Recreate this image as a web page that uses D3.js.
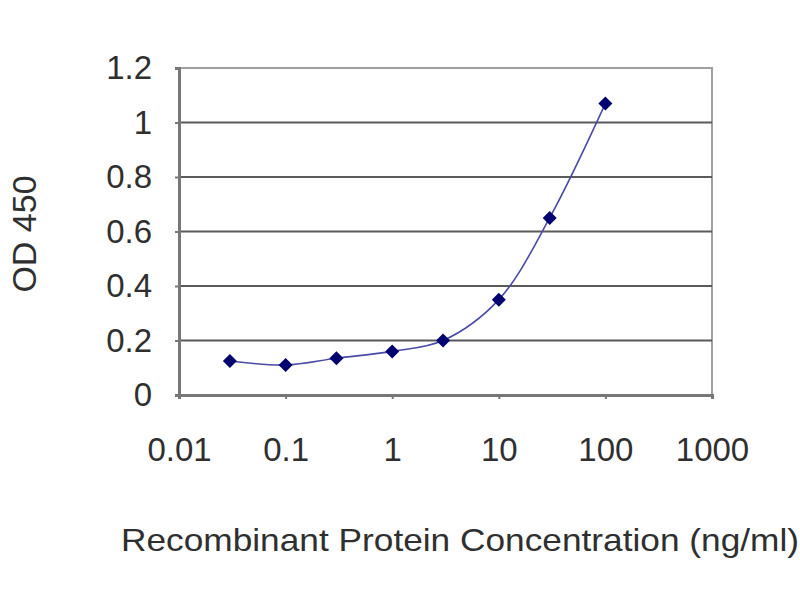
<!DOCTYPE html>
<html>
<head>
<meta charset="utf-8">
<script src="https://cdn.jsdelivr.net/npm/d3@7"></script>
<style>
  body { margin: 0; background: #fff; }
  text { font-family: "Liberation Sans", Arial, sans-serif; fill: #2f2f2f; }
</style>
</head>
<body>
<div id="chart"></div>
<script>
const concentrations = [0.03, 0.1, 0.3, 1, 3, 10, 30, 100];
const odValues = [0.125, 0.11, 0.135, 0.16, 0.2, 0.35, 0.65, 1.07];
const xTicks = [0.01, 0.1, 1, 10, 100, 1000];
const yTicks = [0, 0.2, 0.4, 0.6, 0.8, 1, 1.2];

const W = 800, H = 600;
const margin = { top: 68, right: 88, bottom: 205, left: 179 },
  width = W - margin.left - margin.right,
  height = H - margin.top - margin.bottom;

const svg = d3
  .select("#chart")
  .append("svg")
  .attr("width", W)
  .attr("height", H);

const g = svg.append("g").attr("transform", `translate(${margin.left},${margin.top})`);

const x = d3.scaleLog().domain([0.01, 1000]).range([0, width]);
const y = d3.scaleLinear().domain([0, 1.2]).range([height, 0]);

// Plot frame (top/right are lighter gray).
g.append("rect")
  .attr("width", width)
  .attr("height", height)
  .attr("fill", "#fff")
  .attr("stroke", "#a0a0a0")
  .attr("stroke-width", 2);

// Horizontal gridlines.
g.append("g")
  .selectAll("line")
  .data(yTicks.filter((d) => d > 0 && d < 1.2))
  .enter()
  .append("line")
  .attr("x1", 0)
  .attr("x2", width)
  .attr("y1", (d) => y(d))
  .attr("y2", (d) => y(d))
  .attr("stroke", "#5a5a5a")
  .attr("stroke-width", 2);

// Y axis.
const yAxis = g
  .append("g")
  .call(d3.axisLeft(y).tickValues(yTicks).tickSize(4).tickPadding(23).tickFormat(d3.format("~g")));
yAxis.select(".domain").attr("stroke", "#777").attr("stroke-width", 3);
yAxis.selectAll(".tick line").attr("stroke", "#777").attr("stroke-width", 2);
yAxis.selectAll(".tick text").style("font-size", "33px").attr("fill", "#2f2f2f");

// X axis.
const xAxis = g
  .append("g")
  .attr("transform", `translate(0,${height})`)
  .call(d3.axisBottom(x).tickValues(xTicks).tickSize(4).tickPadding(39).tickFormat(d3.format("~g")));
xAxis.select(".domain").attr("stroke", "#777").attr("stroke-width", 3);
xAxis.selectAll(".tick line").attr("stroke", "#777").attr("stroke-width", 2);
xAxis.selectAll(".tick text").style("font-size", "33px").attr("fill", "#2f2f2f");

// Smoothed curve through the points.
const pts = concentrations.map((c, i) => [x(c), y(odValues[i])]);
g.append("path")
  .attr("d", d3.line().curve(d3.curveCatmullRom.alpha(0.5))(pts))
  .attr("fill", "none")
  .attr("stroke", "#4a4aa8")
  .attr("stroke-width", 1.6);

// Diamond markers.
g.append("g")
  .selectAll("path")
  .data(pts)
  .enter()
  .append("path")
  .attr("transform", (d) => `translate(${d[0]},${d[1]})`)
  .attr("d", "M0,-7L7,0L0,7L-7,0Z")
  .attr("fill", "#000070");

// Axis titles.
svg
  .append("text")
  .attr("transform", "translate(36,234) rotate(-90)")
  .attr("text-anchor", "middle")
  .style("font-size", "34px")
  .text("OD 450");

svg
  .append("text")
  .attr("x", 460)
  .attr("y", 551)
  .attr("text-anchor", "middle")
  .style("font-size", "32px")
  .attr("textLength", 678)
  .attr("lengthAdjust", "spacingAndGlyphs")
  .text("Recombinant Protein Concentration (ng/ml)");
</script>
</body>
</html>
